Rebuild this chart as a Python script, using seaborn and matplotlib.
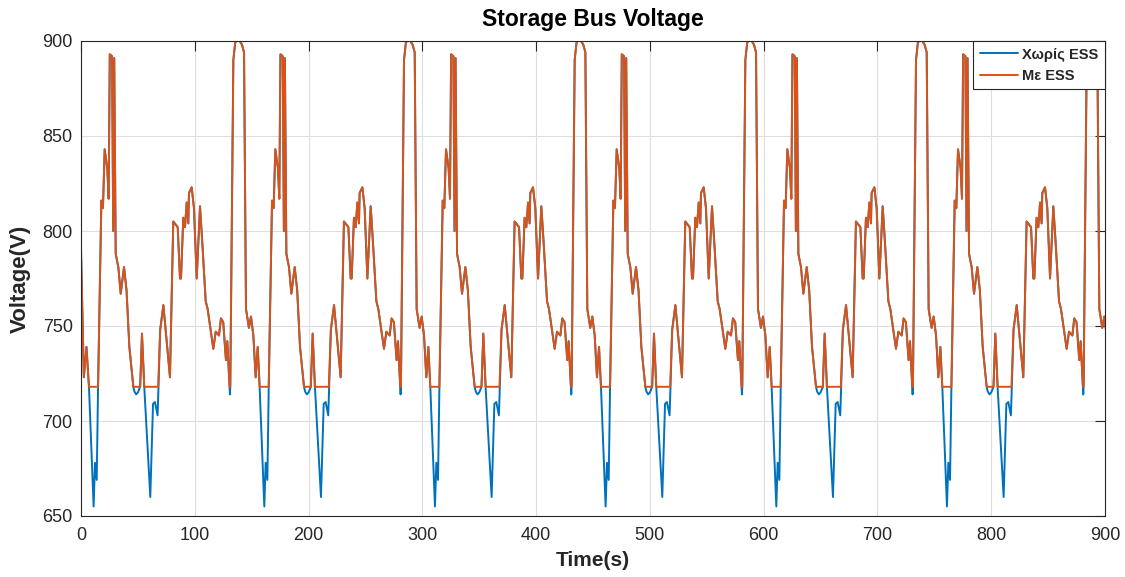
import numpy as np
import pandas as pd
import matplotlib
matplotlib.use("Agg")
import matplotlib.pyplot as plt
import seaborn as sns

# ---------------------------------------------------------------- data
PERIOD = 150.0      # length of one drive cycle, s
N_CYCLES = 6
T_END = 900.0

# opening transient before the first regular cycle
head_t = [0.0, 2.5, 4.8]
head_v = [790, 723, 739]

# one cycle of the bus voltage with the storage system connected
# (time offsets in s, voltage in V)
cycle_t = [7.0, 15.0, 17.9, 19.3, 20.8, 23.1, 24.3, 25.3, 27.3, 28.3,
           29.2, 30.5, 32.8, 34.9, 37.8, 40.0, 42.5, 46.0, 52.0, 53.6,
           55.6, 67.8, 69.6, 72.4, 78.2, 81.1, 85.0, 87.0, 87.9, 89.9,
           91.4, 92.9, 94.3, 94.9, 97.3, 99.3, 101.7, 104.6, 106.7, 109.6,
           111.3, 116.3, 118.4, 121.3, 123.0, 125.0, 127.4, 128.6, 130.6, 131.2,
           133.9, 135.5, 136.5, 139.5, 141.5, 143.3, 145.0, 147.6, 149.4, 151.5,
           153.5, 155.3]
cycle_v = [718, 718, 816, 812, 843, 833, 817, 893, 892, 800,
           891, 788, 781, 767, 781, 769, 739, 718, 718, 746,
           718, 718, 748, 761, 723, 805, 802, 775, 775, 807,
           802, 815, 804, 820, 823, 812, 775, 813, 793, 763,
           759, 738, 747, 745, 754, 752, 732, 742, 718, 718,
           890, 899, 900, 900, 898, 894, 759, 749, 755, 745,
           723, 739]

# without storage the voltage sags below the 718 V floor in these stretches
dip_a_t = [7.0, 11.1, 12.3, 13.8, 15.0]
dip_a_v = [718, 655, 678, 669, 718]
dip_b_t = [46.0, 47.0, 48.5, 50.0, 51.3, 52.0]
dip_b_v = [718, 715.5, 714, 715, 717, 718]
dip_c_t = [55.6, 60.9, 63.3, 65.0, 67.3, 67.8]
dip_c_v = [718, 660, 709, 710, 703, 712]
dip_d_t = [130.6, 130.9, 131.2]
dip_d_v = [718, 714, 718]

series_names = ["Χωρίς ESS", "Με ESS"]
series_colors = ["#0072BD", "#D95319"]


def replace_segments(t, v, segments):
    """Swap the points of (t, v) lying inside each segment for that segment."""
    t = np.asarray(t, float)
    v = np.asarray(v, float)
    keep = np.ones(t.size, bool)
    for st, _ in segments:
        keep &= ~((t >= st[0]) & (t <= st[-1]))
    tt = np.concatenate([t[keep]] + [np.asarray(st, float) for st, _ in segments])
    vv = np.concatenate([v[keep]] + [np.asarray(sv, float) for _, sv in segments])
    order = np.argsort(tt, kind="stable")
    return tt[order], vv[order]


def repeat_cycles(ct, cv):
    ts = [np.asarray(head_t, float)]
    vs = [np.asarray(head_v, float)]
    for k in range(N_CYCLES):
        ts.append(np.asarray(ct, float) + PERIOD * k)
        vs.append(np.asarray(cv, float))
    return np.concatenate(ts), np.concatenate(vs)


ess_t, ess_v = repeat_cycles(cycle_t, cycle_v)
raw_ct, raw_cv = replace_segments(
    cycle_t, cycle_v,
    [(dip_a_t, dip_a_v), (dip_b_t, dip_b_v), (dip_c_t, dip_c_v), (dip_d_t, dip_d_v)])
raw_t, raw_v = repeat_cycles(raw_ct, raw_cv)

df = pd.concat([
    pd.DataFrame({"Time": raw_t, "Voltage": raw_v, "Series": series_names[0]}),
    pd.DataFrame({"Time": ess_t, "Voltage": ess_v, "Series": series_names[1]}),
], ignore_index=True)

# ---------------------------------------------------------------- style
sns.set_theme(style="white")
plt.rcParams["font.family"] = ["Liberation Sans", "DejaVu Sans"]
plt.rcParams["axes.edgecolor"] = "#262626"
plt.rcParams["axes.linewidth"] = 0.8

fig = plt.figure(figsize=(11.25, 5.77), dpi=100, facecolor="white")
ax = fig.add_axes([81 / 1125, 61 / 577, 1024 / 1125, 475 / 577])

sns.lineplot(data=df, x="Time", y="Voltage", hue="Series",
             hue_order=series_names, palette=series_colors,
             estimator=None, sort=False, linewidth=1.4, ax=ax)

ax.set_xlim(0, T_END)
ax.set_ylim(650, 900)
ax.set_xticks(np.arange(0, 901, 100))
ax.set_yticks(np.arange(650, 901, 50))
ax.grid(True, color="#dedede", linewidth=0.8)
ax.set_axisbelow(True)
ax.tick_params(direction="in", length=7, width=0.8, top=True, right=True,
               colors="#262626", labelsize=13, pad=6)
ax.tick_params(axis="x", pad=8)
for sp in ax.spines.values():
    sp.set_color("#262626")
    sp.set_linewidth(0.8)

ax.set_title("Storage Bus Voltage", fontsize=16.5, fontweight="bold",
             color="black", pad=11)
ax.set_xlabel("Time(s)", fontsize=15, fontweight="bold", color="#262626",
              labelpad=5)
ax.set_ylabel("Voltage(V)", fontsize=16, fontweight="bold", color="#262626",
              labelpad=8)

handles, labels = ax.get_legend_handles_labels()
leg = ax.legend(handles, labels, loc="upper right", borderaxespad=0,
                fancybox=False, framealpha=1, edgecolor="#262626",
                prop={"weight": "bold", "size": 10.5},
                handlelength=2.6, handletextpad=0.3, borderpad=0.45,
                labelspacing=0.5)
leg.get_frame().set_linewidth(0.8)

fig.savefig("out.png", dpi=100, facecolor="white")
